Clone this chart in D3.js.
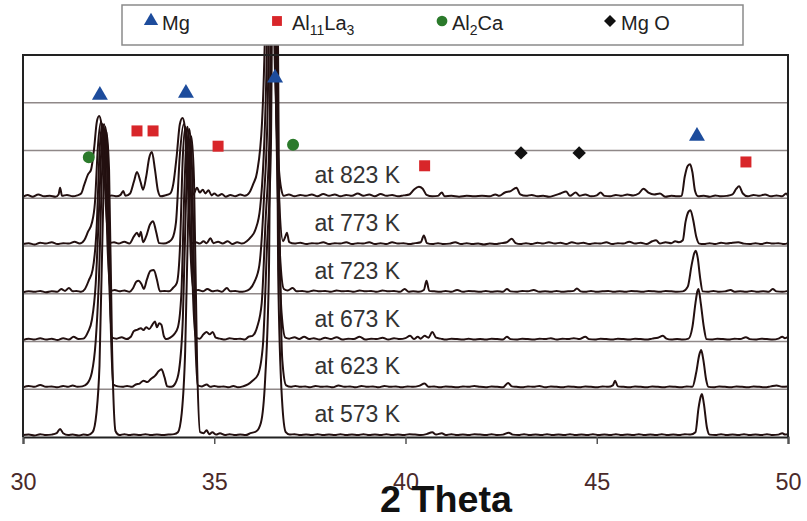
<!DOCTYPE html>
<html>
<head>
<meta charset="utf-8">
<script src="https://cdn.jsdelivr.net/npm/d3@7"></script>
<style>
    body { margin: 0; background: #fff; }
    svg text { font-family: "Liberation Sans", Arial, sans-serif; }
</style>
</head>
<body>
<svg id="chart" width="807" height="521"></svg>
<script>
// 2 theta (deg) vs intensity, one gridline = 1 unit, each scan sits on its own gridline
const labels = ["at 573 K", "at 623 K", "at 673 K", "at 723 K", "at 773 K", "at 823 K"];

const scan573 = [[30.0,0.04],[30.15,0.05],[30.3,0.03],[30.45,0.06],[30.6,0.04],[30.75,0.05],[30.88,0.08],[30.97,0.17],[31.05,0.08],[31.18,0.04],[31.3,0.05],[31.45,0.03],[31.58,0.05],[31.7,0.04],[31.82,0.1],[31.92,0.5],[32.0,1.5],[32.1,5.0],[32.18,6.4],[32.25,5.6],[32.33,1.8],[32.42,0.12],[32.52,0.04],[32.65,0.06],[32.78,0.04],[32.9,0.05],[33.05,0.04],[33.2,0.06],[33.35,0.04],[33.5,0.05],[33.65,0.04],[33.8,0.05],[33.95,0.06],[34.05,0.1],[34.15,0.5],[34.24,1.8],[34.33,5.0],[34.4,6.3],[34.47,5.4],[34.55,1.6],[34.63,0.1],[34.72,0.08],[34.8,0.14],[34.87,0.06],[34.95,0.1],[35.05,0.05],[35.15,0.08],[35.28,0.04],[35.4,0.06],[35.55,0.04],[35.68,0.05],[35.82,0.04],[35.95,0.08],[36.1,0.12],[36.22,0.3],[36.33,1.2],[36.43,3.5],[36.55,17],[36.67,3.5],[36.77,0.8],[36.87,0.1],[36.97,0.05],[37.1,0.06],[37.25,0.04],[37.4,0.05],[37.55,0.04],[37.7,0.06],[37.85,0.04],[38.0,0.05],[38.15,0.04],[38.3,0.06],[38.45,0.04],[38.6,0.05],[38.75,0.04],[38.9,0.06],[39.05,0.04],[39.2,0.05],[39.35,0.04],[39.5,0.06],[39.65,0.04],[39.8,0.05],[39.95,0.04],[40.1,0.06],[40.25,0.05],[40.4,0.04],[40.55,0.06],[40.7,0.1],[40.8,0.05],[40.95,0.08],[41.05,0.04],[41.2,0.06],[41.35,0.04],[41.5,0.05],[41.65,0.04],[41.8,0.06],[41.95,0.05],[42.1,0.04],[42.25,0.06],[42.4,0.04],[42.55,0.05],[42.7,0.09],[42.8,0.05],[42.95,0.04],[43.1,0.06],[43.25,0.04],[43.4,0.05],[43.55,0.04],[43.7,0.06],[43.85,0.04],[44.0,0.05],[44.15,0.04],[44.3,0.06],[44.45,0.04],[44.6,0.05],[44.75,0.04],[44.9,0.06],[45.05,0.04],[45.2,0.05],[45.35,0.04],[45.5,0.06],[45.65,0.04],[45.8,0.05],[45.95,0.04],[46.1,0.06],[46.25,0.04],[46.4,0.05],[46.55,0.04],[46.7,0.06],[46.85,0.04],[47.0,0.05],[47.15,0.04],[47.3,0.06],[47.45,0.05],[47.58,0.1],[47.66,0.6],[47.72,0.85],[47.75,0.9],[47.8,0.7],[47.88,0.2],[47.95,0.05],[48.1,0.04],[48.25,0.06],[48.4,0.04],[48.55,0.05],[48.7,0.04],[48.85,0.06],[49.0,0.04],[49.15,0.05],[49.3,0.04],[49.45,0.06],[49.6,0.04],[49.75,0.05],[49.85,0.08],[49.92,0.05],[50.0,0.06]];

const scan623 = [[30.0,0.04],[30.15,0.07],[30.3,0.05],[30.45,0.09],[30.6,0.05],[30.75,0.06],[30.9,0.04],[31.05,0.07],[31.18,0.05],[31.3,0.08],[31.42,0.05],[31.55,0.06],[31.68,0.12],[31.8,0.35],[31.9,1.0],[31.98,2.2],[32.08,4.8],[32.15,5.5],[32.21,5.0],[32.28,1.8],[32.36,0.1],[32.48,0.06],[32.6,0.05],[32.72,0.07],[32.85,0.05],[32.95,0.1],[33.05,0.12],[33.15,0.18],[33.25,0.15],[33.35,0.22],[33.45,0.28],[33.55,0.38],[33.62,0.42],[33.7,0.25],[33.77,0.06],[33.88,0.05],[33.98,0.12],[34.08,0.4],[34.18,1.5],[34.27,4.2],[34.35,5.45],[34.42,4.6],[34.5,1.2],[34.57,0.08],[34.68,0.06],[34.8,0.1],[34.9,0.05],[35.0,0.07],[35.12,0.05],[35.25,0.06],[35.38,0.04],[35.5,0.07],[35.62,0.04],[35.75,0.06],[35.88,0.1],[36.0,0.18],[36.14,0.3],[36.27,0.9],[36.38,3.0],[36.48,5.0],[36.58,16],[36.69,4.5],[36.78,0.6],[36.88,0.08],[37.0,0.05],[37.12,0.07],[37.25,0.05],[37.38,0.06],[37.5,0.04],[37.65,0.07],[37.8,0.05],[37.95,0.06],[38.1,0.04],[38.25,0.08],[38.4,0.05],[38.55,0.06],[38.7,0.04],[38.85,0.07],[39.0,0.05],[39.15,0.06],[39.3,0.04],[39.45,0.07],[39.6,0.05],[39.75,0.06],[39.9,0.04],[40.05,0.06],[40.2,0.05],[40.35,0.07],[40.5,0.12],[40.6,0.05],[40.75,0.06],[40.9,0.04],[41.05,0.06],[41.2,0.05],[41.35,0.04],[41.5,0.06],[41.65,0.05],[41.8,0.07],[41.95,0.05],[42.1,0.04],[42.25,0.06],[42.4,0.05],[42.55,0.04],[42.68,0.13],[42.78,0.06],[42.9,0.05],[43.05,0.04],[43.2,0.06],[43.35,0.05],[43.5,0.07],[43.65,0.04],[43.8,0.06],[43.95,0.05],[44.1,0.04],[44.25,0.06],[44.4,0.05],[44.55,0.04],[44.7,0.06],[44.85,0.05],[45.0,0.04],[45.15,0.06],[45.3,0.05],[45.42,0.08],[45.48,0.18],[45.55,0.06],[45.7,0.05],[45.85,0.04],[46.0,0.06],[46.15,0.05],[46.3,0.04],[46.45,0.06],[46.6,0.05],[46.75,0.04],[46.9,0.06],[47.05,0.05],[47.2,0.04],[47.35,0.06],[47.5,0.05],[47.6,0.35],[47.68,0.72],[47.73,0.82],[47.79,0.6],[47.86,0.2],[47.92,0.05],[48.05,0.04],[48.2,0.06],[48.35,0.05],[48.5,0.04],[48.65,0.06],[48.8,0.05],[48.95,0.04],[49.1,0.06],[49.25,0.05],[49.4,0.04],[49.55,0.06],[49.7,0.08],[49.85,0.05],[50.0,0.06]];

const scan673 = [[30.0,0.03],[30.15,0.06],[30.3,0.04],[30.45,0.07],[30.6,0.04],[30.75,0.06],[30.9,0.03],[31.05,0.07],[31.2,0.04],[31.32,0.1],[31.45,0.05],[31.58,0.06],[31.7,0.2],[31.8,0.45],[31.9,1.2],[31.98,2.6],[32.06,4.2],[32.12,4.55],[32.18,4.1],[32.25,1.4],[32.33,0.08],[32.45,0.06],[32.58,0.09],[32.7,0.05],[32.82,0.1],[32.9,0.22],[33.0,0.25],[33.08,0.28],[33.15,0.24],[33.22,0.3],[33.3,0.26],[33.38,0.35],[33.45,0.42],[33.5,0.3],[33.56,0.38],[33.62,0.35],[33.68,0.12],[33.75,0.05],[33.85,0.08],[33.95,0.15],[34.05,0.3],[34.14,1.0],[34.22,3.2],[34.3,4.5],[34.37,3.8],[34.44,1.1],[34.52,0.08],[34.62,0.06],[34.72,0.15],[34.8,0.2],[34.88,0.15],[34.96,0.2],[35.04,0.08],[35.15,0.06],[35.28,0.04],[35.4,0.07],[35.55,0.05],[35.68,0.06],[35.8,0.04],[35.9,0.1],[36.0,0.12],[36.12,0.3],[36.24,0.8],[36.34,2.5],[36.45,4.5],[36.55,15],[36.66,4.0],[36.76,0.6],[36.86,0.08],[36.96,0.06],[37.1,0.09],[37.22,0.05],[37.35,0.1],[37.48,0.05],[37.6,0.07],[37.75,0.04],[37.9,0.08],[38.05,0.05],[38.2,0.09],[38.35,0.04],[38.5,0.06],[38.65,0.05],[38.8,0.1],[38.95,0.04],[39.1,0.06],[39.25,0.05],[39.4,0.08],[39.55,0.04],[39.7,0.07],[39.85,0.05],[40.0,0.07],[40.12,0.12],[40.22,0.05],[40.32,0.1],[40.4,0.06],[40.5,0.12],[40.6,0.08],[40.7,0.2],[40.8,0.08],[40.92,0.06],[41.05,0.04],[41.2,0.06],[41.35,0.05],[41.5,0.04],[41.65,0.06],[41.8,0.04],[41.95,0.05],[42.1,0.04],[42.25,0.06],[42.4,0.05],[42.55,0.04],[42.65,0.1],[42.75,0.05],[42.9,0.04],[43.05,0.06],[43.2,0.05],[43.35,0.04],[43.5,0.06],[43.65,0.05],[43.8,0.07],[43.95,0.04],[44.1,0.06],[44.25,0.05],[44.4,0.07],[44.55,0.05],[44.7,0.1],[44.8,0.05],[44.95,0.04],[45.1,0.06],[45.25,0.05],[45.4,0.04],[45.55,0.06],[45.7,0.05],[45.85,0.04],[46.0,0.06],[46.15,0.05],[46.3,0.04],[46.45,0.06],[46.6,0.08],[46.73,0.12],[46.82,0.06],[46.95,0.04],[47.1,0.05],[47.25,0.04],[47.4,0.06],[47.5,0.3],[47.58,0.8],[47.63,1.05],[47.66,1.1],[47.72,0.8],[47.8,0.3],[47.87,0.05],[48.0,0.04],[48.15,0.06],[48.3,0.05],[48.45,0.04],[48.6,0.06],[48.75,0.05],[48.9,0.09],[49.0,0.05],[49.15,0.04],[49.3,0.06],[49.45,0.05],[49.6,0.04],[49.75,0.06],[49.85,0.1],[49.92,0.07],[50.0,0.1]];

const scan723 = [[30.0,0.03],[30.15,0.05],[30.3,0.04],[30.45,0.06],[30.6,0.03],[30.75,0.05],[30.9,0.04],[31.0,0.1],[31.1,0.06],[31.2,0.12],[31.3,0.05],[31.4,0.06],[31.52,0.04],[31.62,0.1],[31.72,0.28],[31.82,0.5],[31.92,1.3],[32.01,3.1],[32.08,3.55],[32.14,3.1],[32.21,1.0],[32.29,0.06],[32.4,0.08],[32.52,0.05],[32.65,0.07],[32.78,0.04],[32.88,0.12],[32.96,0.25],[33.02,0.27],[33.1,0.2],[33.16,0.1],[33.24,0.3],[33.33,0.48],[33.42,0.5],[33.5,0.3],[33.58,0.05],[33.7,0.06],[33.82,0.05],[33.92,0.12],[34.02,0.22],[34.1,0.9],[34.18,2.9],[34.25,3.5],[34.31,3.0],[34.38,0.9],[34.46,0.06],[34.58,0.08],[34.7,0.05],[34.82,0.1],[34.95,0.05],[35.08,0.07],[35.2,0.04],[35.33,0.12],[35.42,0.05],[35.55,0.06],[35.68,0.04],[35.8,0.05],[35.93,0.1],[36.05,0.25],[36.18,0.6],[36.3,2.0],[36.4,4.0],[36.51,14],[36.62,3.8],[36.72,0.8],[36.82,0.1],[36.92,0.07],[37.05,0.12],[37.15,0.05],[37.3,0.06],[37.45,0.04],[37.6,0.07],[37.75,0.05],[37.9,0.06],[38.05,0.04],[38.2,0.07],[38.35,0.05],[38.5,0.06],[38.65,0.04],[38.8,0.07],[38.95,0.05],[39.1,0.06],[39.25,0.04],[39.4,0.07],[39.55,0.05],[39.7,0.06],[39.85,0.04],[39.98,0.1],[40.08,0.04],[40.2,0.05],[40.35,0.04],[40.48,0.08],[40.55,0.27],[40.62,0.06],[40.75,0.05],[40.9,0.04],[41.05,0.06],[41.2,0.04],[41.35,0.08],[41.5,0.04],[41.65,0.06],[41.8,0.05],[41.95,0.04],[42.1,0.06],[42.25,0.04],[42.4,0.05],[42.55,0.04],[42.65,0.1],[42.75,0.05],[42.9,0.04],[43.05,0.06],[43.2,0.05],[43.35,0.08],[43.5,0.04],[43.65,0.05],[43.8,0.04],[43.95,0.06],[44.1,0.04],[44.25,0.05],[44.4,0.06],[44.48,0.11],[44.58,0.05],[44.7,0.04],[44.85,0.06],[45.0,0.04],[45.15,0.05],[45.3,0.06],[45.45,0.04],[45.6,0.05],[45.75,0.04],[45.9,0.06],[46.05,0.05],[46.2,0.04],[46.35,0.06],[46.5,0.05],[46.65,0.04],[46.8,0.06],[46.95,0.05],[47.1,0.04],[47.25,0.05],[47.38,0.15],[47.48,0.6],[47.55,0.85],[47.59,0.9],[47.64,0.75],[47.7,0.35],[47.77,0.05],[47.9,0.04],[48.05,0.06],[48.2,0.04],[48.35,0.05],[48.5,0.08],[48.6,0.04],[48.75,0.05],[48.9,0.04],[49.05,0.06],[49.2,0.04],[49.35,0.05],[49.5,0.04],[49.6,0.1],[49.7,0.05],[49.85,0.04],[50.0,0.06]];

const scan773 = [[30.0,0.04],[30.15,0.06],[30.3,0.03],[30.45,0.07],[30.6,0.05],[30.75,0.08],[30.9,0.04],[31.05,0.06],[31.2,0.05],[31.35,0.09],[31.48,0.05],[31.6,0.12],[31.7,0.3],[31.8,0.48],[31.88,0.9],[31.96,2.1],[32.04,2.6],[32.1,2.2],[32.17,0.8],[32.25,0.06],[32.38,0.08],[32.5,0.05],[32.65,0.09],[32.78,0.05],[32.9,0.2],[32.98,0.28],[33.04,0.2],[33.08,0.3],[33.14,0.08],[33.22,0.2],[33.32,0.45],[33.4,0.52],[33.48,0.3],[33.56,0.06],[33.68,0.05],[33.8,0.08],[33.9,0.15],[34.0,0.5],[34.1,1.9],[34.2,2.55],[34.27,2.1],[34.34,0.7],[34.42,0.06],[34.52,0.08],[34.62,0.05],[34.72,0.1],[34.8,0.06],[34.9,0.16],[34.98,0.06],[35.1,0.09],[35.22,0.05],[35.35,0.1],[35.48,0.04],[35.6,0.08],[35.72,0.05],[35.85,0.1],[35.95,0.18],[36.08,0.35],[36.2,0.8],[36.36,3.5],[36.48,13],[36.6,3.8],[36.7,0.9],[36.8,0.1],[36.86,0.2],[36.9,0.28],[36.96,0.08],[37.1,0.05],[37.25,0.07],[37.4,0.04],[37.55,0.06],[37.7,0.05],[37.85,0.08],[38.0,0.04],[38.15,0.06],[38.3,0.05],[38.45,0.08],[38.6,0.04],[38.75,0.06],[38.9,0.05],[39.05,0.08],[39.2,0.04],[39.35,0.06],[39.5,0.04],[39.65,0.08],[39.8,0.05],[39.95,0.06],[40.1,0.04],[40.25,0.06],[40.4,0.08],[40.48,0.22],[40.56,0.06],[40.7,0.04],[40.85,0.06],[41.0,0.04],[41.15,0.05],[41.3,0.08],[41.45,0.04],[41.6,0.06],[41.75,0.04],[41.9,0.05],[42.05,0.03],[42.2,0.05],[42.35,0.04],[42.5,0.06],[42.65,0.08],[42.78,0.15],[42.88,0.06],[43.0,0.04],[43.15,0.06],[43.3,0.04],[43.45,0.07],[43.6,0.05],[43.75,0.08],[43.9,0.05],[44.05,0.07],[44.2,0.04],[44.35,0.08],[44.5,0.05],[44.65,0.07],[44.8,0.04],[44.95,0.06],[45.1,0.05],[45.25,0.08],[45.4,0.04],[45.55,0.06],[45.7,0.05],[45.85,0.09],[46.0,0.05],[46.15,0.07],[46.3,0.04],[46.45,0.1],[46.55,0.12],[46.65,0.05],[46.8,0.08],[46.95,0.06],[47.05,0.1],[47.15,0.08],[47.25,0.12],[47.32,0.5],[47.4,0.72],[47.45,0.75],[47.52,0.55],[47.6,0.2],[47.68,0.05],[47.8,0.04],[47.95,0.06],[48.1,0.04],[48.25,0.07],[48.4,0.05],[48.55,0.07],[48.7,0.08],[48.85,0.05],[49.0,0.04],[49.15,0.06],[49.3,0.04],[49.45,0.07],[49.6,0.05],[49.75,0.06],[49.9,0.04],[50.0,0.06]];

const scan823 = [[30.0,0.03],[30.12,0.07],[30.25,0.03],[30.4,0.08],[30.55,0.04],[30.7,0.05],[30.85,0.03],[30.93,0.08],[30.97,0.22],[31.02,0.05],[31.15,0.07],[31.3,0.04],[31.42,0.06],[31.52,0.1],[31.6,0.28],[31.7,0.5],[31.78,0.6],[31.86,1.05],[31.93,1.6],[31.99,1.72],[32.05,1.55],[32.1,0.9],[32.15,0.25],[32.21,0.04],[32.32,0.06],[32.45,0.04],[32.55,0.07],[32.62,0.15],[32.68,0.05],[32.8,0.1],[32.9,0.35],[32.98,0.55],[33.07,0.35],[33.14,0.18],[33.22,0.45],[33.3,0.85],[33.37,0.97],[33.45,0.6],[33.53,0.15],[33.6,0.04],[33.72,0.06],[33.85,0.1],[33.93,0.3],[34.02,0.9],[34.1,1.55],[34.17,1.68],[34.23,1.5],[34.3,0.7],[34.36,0.1],[34.45,0.08],[34.55,0.22],[34.62,0.12],[34.7,0.18],[34.77,0.1],[34.85,0.17],[34.93,0.06],[35.0,0.1],[35.1,0.05],[35.2,0.09],[35.3,0.03],[35.42,0.07],[35.55,0.04],[35.68,0.08],[35.8,0.05],[35.92,0.12],[36.02,0.3],[36.12,0.55],[36.25,1.6],[36.35,4.5],[36.45,12],[36.55,4.2],[36.65,1.2],[36.75,0.2],[36.82,0.05],[36.95,0.08],[37.1,0.04],[37.25,0.07],[37.4,0.05],[37.55,0.08],[37.7,0.04],[37.85,0.09],[38.0,0.05],[38.15,0.08],[38.3,0.04],[38.45,0.07],[38.6,0.05],[38.75,0.1],[38.9,0.05],[39.05,0.08],[39.2,0.04],[39.35,0.09],[39.5,0.05],[39.65,0.07],[39.8,0.04],[39.95,0.06],[40.1,0.08],[40.22,0.18],[40.35,0.24],[40.45,0.2],[40.55,0.07],[40.7,0.04],[40.85,0.05],[40.95,0.12],[41.02,0.04],[41.2,0.05],[41.4,0.03],[41.6,0.05],[41.8,0.04],[42.0,0.05],[42.2,0.04],[42.35,0.08],[42.45,0.05],[42.6,0.12],[42.75,0.15],[42.9,0.22],[43.0,0.08],[43.15,0.05],[43.3,0.07],[43.45,0.04],[43.6,0.05],[43.75,0.03],[43.9,0.06],[44.05,0.1],[44.2,0.14],[44.3,0.05],[44.45,0.12],[44.55,0.05],[44.7,0.08],[44.85,0.04],[45.0,0.06],[45.1,0.12],[45.2,0.05],[45.35,0.04],[45.5,0.07],[45.65,0.05],[45.8,0.08],[45.95,0.06],[46.1,0.1],[46.22,0.2],[46.35,0.12],[46.5,0.08],[46.65,0.1],[46.8,0.03],[46.95,0.05],[47.1,0.04],[47.22,0.05],[47.3,0.45],[47.38,0.68],[47.44,0.71],[47.5,0.55],[47.57,0.15],[47.65,0.04],[47.8,0.05],[47.95,0.03],[48.1,0.06],[48.25,0.04],[48.4,0.05],[48.55,0.08],[48.65,0.2],[48.72,0.25],[48.82,0.1],[48.95,0.04],[49.1,0.07],[49.25,0.05],[49.4,0.08],[49.55,0.04],[49.7,0.06],[49.85,0.04],[49.95,0.1],[50.0,0.05]];

const scans = [scan573, scan623, scan673, scan723, scan773, scan823];

// phase markers: [2 theta, level]
const mgMarks = [[32.01,7.16],[34.26,7.2],[36.59,7.52],[47.62,6.3]];
const al11la3Marks = [[32.98,6.41],[33.4,6.41],[35.1,6.09],[40.5,5.68],[48.9,5.76]];
const al2caMarks = [[31.72,5.86],[37.06,6.12]];
const mgoMarks = [[43.02,5.95],[44.54,5.95]];

const xTicks = [30, 35, 40, 45, 50];
const gridLevels = [0, 1, 2, 3, 4, 5, 6, 7];

const svg = d3.select("#chart");
const margin = {left: 23, right: 19, top: 55, bottom: 84};
const width = 807, height = 521;

const x = d3.scaleLinear().domain([30, 50]).range([margin.left, width - margin.right]);
const y = d3.scaleLinear().domain([0, 8]).range([height - margin.bottom, margin.top]);

svg.append("defs").append("clipPath").attr("id", "clip")
    .append("rect").attr("x", 0).attr("y", 14).attr("width", width).attr("height", height);

svg.append("g")
    .selectAll("line")
    .data(gridLevels.slice(1))
    .join("line")
    .attr("x1", x(30)).attr("x2", x(50))
    .attr("y1", d => y(d)).attr("y2", d => y(d))
    .attr("stroke", "#8f8888")
    .attr("stroke-width", 1.5);

const line = offset => d3.line()
    .x(d => x(d[0]))
    .y(d => y(d[1] + offset))
    .curve(d3.curveMonotoneX);

svg.append("g")
    .attr("clip-path", "url(#clip)")
    .selectAll("path")
    .data(scans)
    .join("path")
    .attr("d", (d, i) => line(i)(d))
    .attr("fill", "none")
    .attr("stroke", "#231010")
    .attr("stroke-width", 2)
    .attr("stroke-linejoin", "round");

// frame
svg.append("path")
    .attr("d", `M${x(30)},${y(0)}V${y(8)}H${x(50)}V${y(0)}`)
    .attr("fill", "none")
    .attr("stroke", "#222")
    .attr("stroke-width", 2);

const xAxis = svg.append("g")
    .attr("transform", `translate(0,${y(0)})`)
    .call(d3.axisBottom(x).tickValues(xTicks).tickSize(7).tickPadding(29).tickFormat(d3.format("d")));
xAxis.select(".domain").attr("stroke", "#222").attr("stroke-width", 2);
xAxis.selectAll(".tick line").attr("stroke", "#555").attr("stroke-width", 1.5);
xAxis.selectAll(".tick text")
    .attr("font-size", 24)
    .attr("fill", "#4a2a2a")
    .attr("textLength", 26)
    .attr("lengthAdjust", "spacingAndGlyphs");

svg.append("text")
    .attr("x", 446).attr("y", 512)
    .attr("text-anchor", "middle")
    .attr("font-size", 36)
    .attr("font-weight", "bold")
    .attr("textLength", 132)
    .attr("lengthAdjust", "spacingAndGlyphs")
    .attr("fill", "#111")
    .text("2 Theta");

svg.append("g")
    .selectAll("text")
    .data(labels)
    .join("text")
    .attr("x", x(37.62))
    .attr("y", (d, i) => y(i + 0.31))
    .attr("font-size", 23)
    .attr("fill", "#333")
    .text(d => d);

// phase markers
const symbols = [
    {marks: mgMarks, type: d3.symbolTriangle, size: 110, color: "#1d4c9c", rotate: 0},
    {marks: al11la3Marks, type: d3.symbolSquare, size: 121, color: "#d8262a", rotate: 0},
    {marks: al2caMarks, type: d3.symbolCircle, size: 113, color: "#2b7a2b", rotate: 0},
    {marks: mgoMarks, type: d3.symbolSquare, size: 90, color: "#111", rotate: 45}
];

symbols.forEach(s => {
    svg.append("g")
        .selectAll("path")
        .data(s.marks)
        .join("path")
        .attr("transform", d => `translate(${x(d[0])},${y(d[1])}) rotate(${s.rotate})`)
        .attr("d", d3.symbol().type(s.type).size(s.size))
        .attr("fill", s.color);
});

// legend
const legend = svg.append("g");
legend.append("rect")
    .attr("x", 122).attr("y", 5).attr("width", 621).attr("height", 40)
    .attr("fill", "#fff")
    .attr("stroke", "#8a8a8a")
    .attr("stroke-width", 1.5);

const legendItems = [
    {sym: symbols[0], sx: 151, tx: 162, parts: [["Mg", 0]]},
    {sym: symbols[1], sx: 277, tx: 292, parts: [["Al", 0], ["11", 1], ["La", 0], ["3", 1]]},
    {sym: symbols[2], sx: 442, tx: 452, parts: [["Al", 0], ["2", 1], ["Ca", 0]]},
    {sym: symbols[3], sx: 610, tx: 621, parts: [["Mg O", 0]]}
];

legendItems.forEach(item => {
    legend.append("path")
        .attr("transform", `translate(${item.sx},21) rotate(${item.sym.rotate})`)
        .attr("d", d3.symbol().type(item.sym.type).size(item.sym.size * 0.8))
        .attr("fill", item.sym.color);
    const t = legend.append("text")
        .attr("x", item.tx).attr("y", 30)
        .attr("font-size", 20)
        .attr("fill", "#222");
    let sub = 0;
    item.parts.forEach(([s, isSub]) => {
        t.append("tspan")
            .attr("dy", isSub === sub ? 0 : (isSub ? 5 : -5))
            .attr("font-size", isSub ? 14 : 20)
            .text(s);
        sub = isSub;
    });
});
</script>
</body>
</html>
